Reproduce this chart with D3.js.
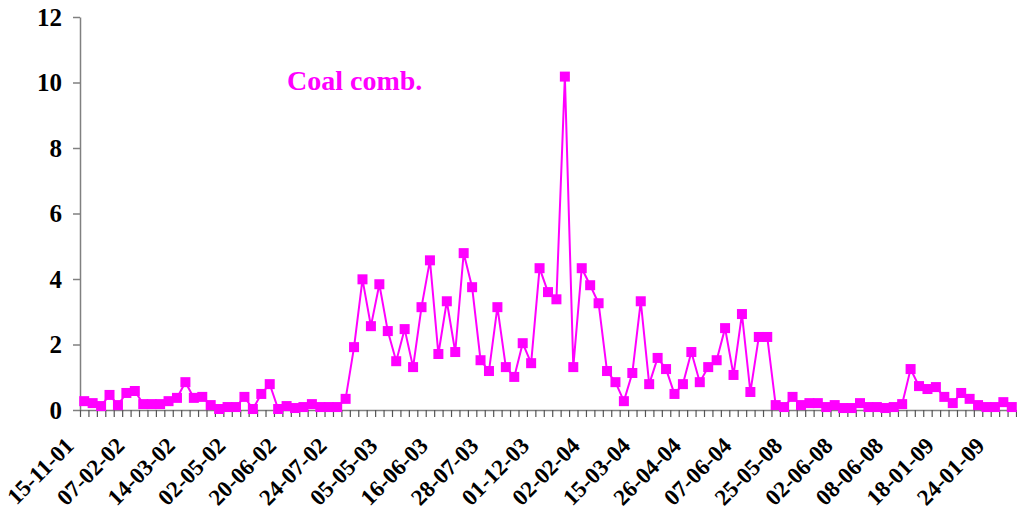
<!DOCTYPE html>
<html>
<head>
<meta charset="utf-8">
<script src="https://cdn.jsdelivr.net/npm/d3@7"></script>
<style>
  body { margin: 0; background: #fff; }
  svg text { font-family: "Liberation Serif", "Times New Roman", Times, "DejaVu Serif", serif; font-weight: bold; }
</style>
</head>
<body>
<div class="container"></div>
<script>
// measured values (one per sampling date)
const values = [
  0.27, 0.21, 0.12, 0.46, 0.15, 0.52, 0.58, 0.18, 0.18, 0.18,
  0.27, 0.37, 0.85, 0.37, 0.40, 0.15, 0.03, 0.09, 0.09, 0.40,
  0.03, 0.49, 0.79, 0.03, 0.12, 0.06, 0.09, 0.18, 0.09, 0.09,
  0.09, 0.34, 1.92, 3.99, 2.56, 3.84, 2.41, 1.49, 2.47, 1.31,
  3.14, 4.57, 1.71, 3.32, 1.77, 4.79, 3.75, 1.52, 1.19, 3.14,
  1.31, 1.01, 2.04, 1.43, 4.33, 3.60, 3.38, 10.18, 1.31, 4.33,
  3.81, 3.26, 1.19, 0.85, 0.27, 1.13, 3.32, 0.79, 1.59, 1.25,
  0.49, 0.79, 1.77, 0.85, 1.31, 1.52, 2.50, 1.07, 2.93, 0.55,
  2.23, 2.23, 0.15, 0.09, 0.40, 0.15, 0.21, 0.21, 0.09, 0.15,
  0.06, 0.06, 0.21, 0.09, 0.09, 0.06, 0.09, 0.18, 1.25, 0.73,
  0.64, 0.70, 0.40, 0.21, 0.52, 0.34, 0.15, 0.09, 0.09, 0.24,
  0.09
];

// date labels shown on the axis (every 6th sample)
const tickLabels = [
  "15-11-01", "07-02-02", "14-03-02", "02-05-02", "20-06-02", "24-07-02",
  "05-05-03", "16-06-03", "28-07-03", "01-12-03", "02-02-04", "15-03-04",
  "26-04-04", "07-06-04", "25-05-08", "02-06-08", "08-06-08", "18-01-09",
  "24-01-09"
];
const labelStep = 6;

const yTicks = [0, 2, 4, 6, 8, 10, 12];
const seriesName = "Coal comb.";

const W = 1017, H = 513;
const margin = { top: 17, right: 1, bottom: 103, left: 80 };
const color = "#FF00FF";
const serif = '"Liberation Serif", "Times New Roman", Times, "DejaVu Serif", serif';

const svg = d3.select("div.container").append("svg")
    .attr("width", W)
    .attr("height", H)
    .style("display", "block");

const idx = d3.range(values.length);

const x = d3.scaleBand()
    .domain(idx)
    .range([margin.left, W - margin.right]);

// boundaries between categories, for the tick marks
const xEdge = d3.scaleLinear()
    .domain([0, values.length])
    .range([margin.left, W - margin.right]);

const y = d3.scaleLinear()
    .domain([0, 12])
    .range([H - margin.bottom, margin.top]);

const cx = i => x(i) + x.bandwidth() / 2;

// y axis
const yAxis = svg.append("g")
    .attr("transform", `translate(${margin.left},0)`)
    .call(d3.axisLeft(y).tickValues(yTicks).tickSize(7).tickPadding(11).tickSizeOuter(0));
yAxis.attr("font-family", serif).attr("font-size", 25).attr("font-weight", "bold");
yAxis.select(".domain").attr("stroke", "#808080").attr("stroke-width", 1.5);
yAxis.selectAll(".tick line").attr("stroke", "#808080").attr("stroke-width", 1.5);
yAxis.selectAll(".tick text").attr("fill", "#000");

// x axis (tick marks between categories)
const xAxis = svg.append("g")
    .attr("transform", `translate(0,${y(0)})`)
    .call(d3.axisBottom(xEdge).tickValues(d3.range(values.length + 1)).tickFormat("").tickSize(7).tickSizeOuter(0));
xAxis.select(".domain").attr("stroke", "#808080").attr("stroke-width", 1.5);
xAxis.selectAll(".tick line").attr("stroke", "#555").attr("stroke-width", 1.2);

// rotated date labels
svg.append("g")
    .attr("font-family", serif)
    .attr("font-weight", "bold")
    .attr("font-size", 23)
    .selectAll("text")
    .data(tickLabels)
    .enter()
    .append("text")
    .attr("transform", (d, i) => `translate(${cx(i * labelStep) - 9},${y(0) + 37}) rotate(-45)`)
    .attr("text-anchor", "end")
    .text(d => d);

// series line
svg.append("path")
    .datum(values)
    .attr("fill", "none")
    .attr("stroke", color)
    .attr("stroke-width", 2)
    .attr("d", d3.line().x((d, i) => cx(i)).y(d => y(d)));

// square markers
const ms = 10;
svg.append("g").selectAll("rect")
    .data(values)
    .enter()
    .append("rect")
    .attr("x", (d, i) => cx(i) - ms / 2)
    .attr("y", d => y(d) - ms / 2)
    .attr("width", ms)
    .attr("height", ms)
    .attr("fill", color);

// series label
svg.append("text")
    .attr("x", 287)
    .attr("y", 90)
    .attr("fill", color)
    .attr("font-family", serif)
    .attr("font-weight", "bold")
    .attr("font-size", 28)
    .text(seriesName);
</script>
</body>
</html>
